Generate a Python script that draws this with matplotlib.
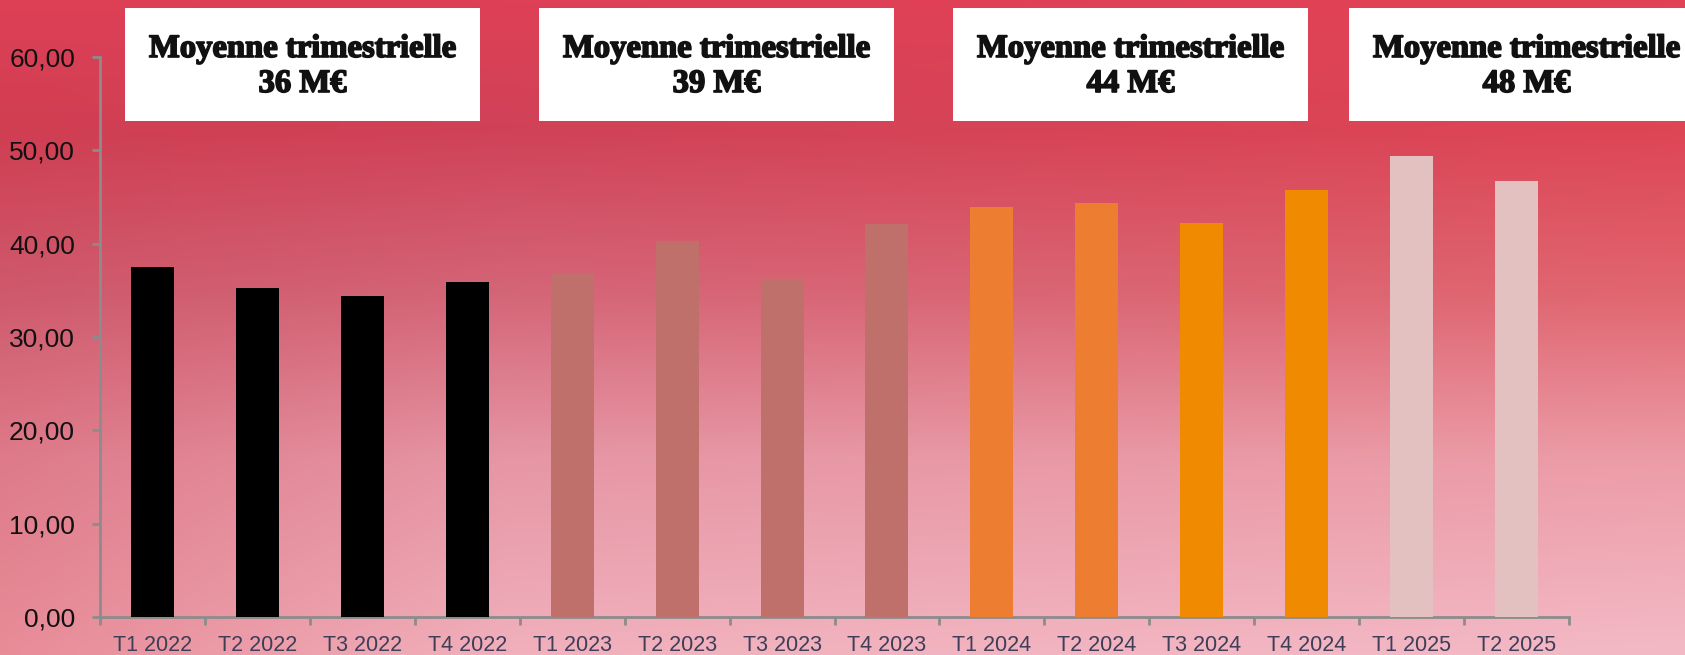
import numpy as np
import matplotlib
matplotlib.use("Agg")
import matplotlib.pyplot as plt
from matplotlib.patches import Rectangle
import matplotlib.patheffects as pe

categories = ["T1 2022", "T2 2022", "T3 2022", "T4 2022",
              "T1 2023", "T2 2023", "T3 2023", "T4 2023",
              "T1 2024", "T2 2024", "T3 2024", "T4 2024",
              "T1 2025", "T2 2025"]
values = [37.5, 35.2, 34.4, 35.9,
          36.7, 40.3, 36.1, 42.1,
          43.9, 44.4, 42.2, 45.8,
          49.4, 46.7]
bar_colors = ["#000000"] * 4 + ["#c0706b"] * 4 + ["#ed7d31", "#ed7d31", "#f08a00", "#f08a00"] + ["#e2c1c0"] * 2
box_titles = ["Moyenne trimestrielle"] * 4
box_values = ["36 M€", "39 M€", "44 M€", "48 M€"]
yticks = [0, 10, 20, 30, 40, 50, 60]
ytick_labels = ["0,00", "10,00", "20,00", "30,00", "40,00", "50,00", "60,00"]

W, H = 1685, 655
fig = plt.figure(figsize=(W / 100, H / 100), dpi=100)

# background gradient
bg = fig.add_axes([0, 0, 1, 1], zorder=-10)
bg.set_axis_off()
ys = np.array([0.0, 0.2, 0.45, 0.7, 1.0])
left_prof = np.array([[222, 64, 86], [208, 62, 82], [206, 90, 108], [222, 122, 138], [232, 140, 152]]) / 255
mid_prof = np.array([[222, 64, 86], [208, 66, 88], [212, 102, 120], [230, 150, 165], [241, 176, 188]]) / 255
right_prof = np.array([[226, 66, 86], [222, 70, 85], [225, 102, 112], [236, 156, 167], [243, 186, 198]]) / 255
ny, nx = 200, 300
yy = np.linspace(0, 1, ny)
xx = np.linspace(0, 1, nx)
def prof(p):
    return np.stack([np.interp(yy, ys, p[:, c]) for c in range(3)], axis=-1)
L, M, R = prof(left_prof), prof(mid_prof), prof(right_prof)
img = np.zeros((ny, nx, 3))
for j, xv in enumerate(xx):
    if xv < 0.3:
        t = xv / 0.3
        img[:, j] = L * (1 - t) + M * t
    else:
        t = (xv - 0.3) / 0.7
        img[:, j] = M * (1 - t) + R * t
bg.imshow(img, aspect="auto", extent=[0, 1, 0, 1], origin="upper", interpolation="bilinear")
bg.set_xlim(0, 1)
bg.set_ylim(0, 1)

ax = fig.add_axes([100 / W, (H - 617) / H, (1569 - 100) / W, (617 - 57) / H])
ax.patch.set_alpha(0)
x = np.arange(len(categories))
ax.bar(x, values, width=0.41, color=bar_colors, zorder=3)
ax.set_xlim(-0.5, len(categories) - 0.5)
ax.set_ylim(0, 60)
for s in ["top", "right"]:
    ax.spines[s].set_visible(False)
for s in ["left", "bottom"]:
    ax.spines[s].set_color("#8c8c8c")
    ax.spines[s].set_linewidth(2)
ax.set_yticks(yticks)
ax.set_yticklabels(ytick_labels, fontsize=19, family="Liberation Sans", color="#111111")
ax.tick_params(axis="y", length=6, width=2, color="#8c8c8c", pad=12)
ax.set_xticks(x)
ax.set_xticklabels(categories, fontsize=15.5, family="Liberation Sans", color="#3e3e58")
ax.set_xticks(np.arange(-0.5, len(categories)), minor=True)
ax.tick_params(axis="x", which="major", length=0, pad=13)
ax.tick_params(axis="x", which="minor", length=6, width=2, color="#8c8c8c")

# boxes
box_x = [125, 539, 953, 1349]
box_w = 355
stroke = [pe.withStroke(linewidth=1.2, foreground="#111111")]
for bx, t1, t2 in zip(box_x, box_titles, box_values):
    fig.patches.append(Rectangle((bx / W, (H - 121) / H), box_w / W, 113 / H,
                                 transform=fig.transFigure, facecolor="white",
                                 edgecolor="none", zorder=5))
    cx = (bx + box_w / 2) / W
    fig.text(cx, (H - 57) / H, t1, ha="center", va="baseline", fontsize=23.5,
             family="Liberation Serif", weight="bold", color="#111111", zorder=6,
             path_effects=stroke)
    fig.text(cx, (H - 92) / H, t2, ha="center", va="baseline", fontsize=23.5,
             family="Liberation Serif", weight="bold", color="#111111", zorder=6,
             path_effects=stroke)

fig.savefig("out.png", dpi=100)
